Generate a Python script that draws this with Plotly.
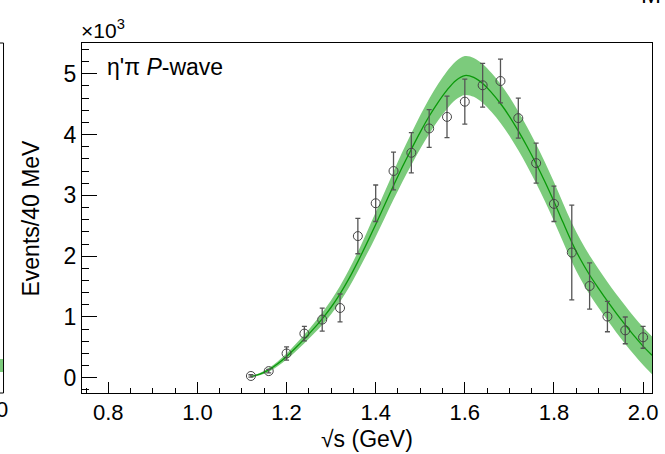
import plotly.graph_objects as go

# ---- data (events per 40 MeV) ----
x_data = [1.12, 1.16, 1.20, 1.24, 1.28, 1.32, 1.36, 1.40, 1.44, 1.48, 1.52, 1.56,
          1.60, 1.64, 1.68, 1.72, 1.76, 1.80, 1.84, 1.88, 1.92, 1.96, 2.00]
y_data = [30, 110, 400, 727, 957, 1148, 2330, 2870, 3400, 3700, 4100, 4290,
          4540, 4810, 4880, 4270, 3530, 2860, 2060, 1510, 1007, 780, 666]
y_err = [20, 30, 110, 120, 190, 230, 290, 300, 310, 330, 310, 340,
         370, 360, 360, 330, 330, 290, 780, 380, 250, 220, 180]

fit_x = [1.12, 1.14, 1.16, 1.18, 1.20, 1.22, 1.24, 1.26, 1.28, 1.30, 1.32, 1.34,
         1.36, 1.38, 1.40, 1.42, 1.44, 1.46, 1.48, 1.50, 1.52, 1.54, 1.56, 1.58,
         1.60, 1.62, 1.64, 1.66, 1.68, 1.70, 1.72, 1.74, 1.76, 1.78, 1.80, 1.82,
         1.84, 1.86, 1.88, 1.90, 1.92, 1.94, 1.96, 1.98, 2.00, 2.02]
fit_center = [20, 60, 130, 230, 350, 490, 640, 800, 970, 1160, 1380, 1630,
              1910, 2210, 2520, 2840, 3160, 3470, 3760, 4040, 4300, 4530, 4730, 4890,
              4970, 4940, 4840, 4690, 4510, 4300, 4060, 3800, 3520, 3220, 2900, 2560,
              2230, 1940, 1690, 1470, 1260, 1060, 870, 690, 520, 370]
fit_err = [10, 20, 30, 40, 50, 60, 70, 85, 100, 115, 130, 145,
           160, 180, 200, 215, 230, 245, 260, 275, 290, 300, 310, 315,
           320, 320, 320, 320, 320, 320, 320, 320, 320, 320, 320, 320,
           320, 320, 320, 320, 315, 315, 315, 310, 310, 310]

y_tickvals = [0, 1000, 2000, 3000, 4000, 5000]
y_ticktext = ["0", "1", "2", "3", "4", "5"]

band_color = "#7ccb7c"
line_color = "#0a990a"
FONT = "Liberation Sans, Arial, Helvetica, sans-serif"

fit_hi = [c + e for c, e in zip(fit_center, fit_err)]
fit_lo = [c - e for c, e in zip(fit_center, fit_err)]

fig = go.Figure()
fig.add_trace(go.Scatter(x=fit_x, y=fit_hi, mode="lines", line=dict(width=0, shape="spline"),
                         hoverinfo="skip", showlegend=False))
fig.add_trace(go.Scatter(x=fit_x, y=fit_lo, mode="lines", line=dict(width=0, shape="spline"),
                         fill="tonexty", fillcolor=band_color, hoverinfo="skip", showlegend=False))
fig.add_trace(go.Scatter(x=fit_x, y=fit_center, mode="lines",
                         line=dict(color=line_color, width=1.3, shape="spline"), showlegend=False))
fig.add_trace(go.Scatter(x=x_data, y=y_data, mode="markers",
                         marker=dict(symbol="circle-open", size=9, color="#444444",
                                     line=dict(width=1, color="#444444")),
                         error_y=dict(type="data", array=y_err, visible=True,
                                      color="#555555", thickness=1.3, width=2.5),
                         showlegend=False))

W, H = 665, 454
L, R, T, B = 82, 7, 43, 61
pw, ph = W - L - R, H - T - B


def px(xp):
    return (xp - L) / pw


def py(yp):
    return (H - B - yp) / ph


fig.update_layout(
    width=W, height=H,
    margin=dict(l=L, r=R, t=T, b=B),
    paper_bgcolor="white", plot_bgcolor="white",
    font=dict(family=FONT, size=22, color="black"),
    xaxis=dict(range=[0.741, 2.02], showgrid=False, zeroline=False,
               showline=True, linecolor="black", linewidth=1, mirror=True,
               ticks="inside", ticklen=11, tickcolor="black", tickwidth=1,
               tick0=0, dtick=0.2, tickformat=".1f",
               tickfont=dict(size=22, family=FONT),
               minor=dict(ticks="inside", ticklen=5, dtick=0.05, tick0=0,
                          tickcolor="black", tickwidth=1, showgrid=False)),
    yaxis=dict(range=[-250, 5505], showgrid=False, zeroline=False,
               showline=True, linecolor="black", linewidth=1, mirror=True,
               ticks="inside", ticklen=15, tickcolor="black", tickwidth=1,
               tickvals=y_tickvals, ticktext=y_ticktext,
               tickfont=dict(size=23, family=FONT),
               minor=dict(ticks="inside", ticklen=7, dtick=200, tick0=0,
                          tickcolor="black", tickwidth=1, showgrid=False)),
)

ann = []
ann.append(dict(text="Events/40 MeV", x=px(30), y=py(218), xref="paper", yref="paper",
                textangle=-90, showarrow=False, font=dict(size=23, family=FONT),
                xanchor="center", yanchor="middle"))
ann.append(dict(text="√s (GeV)", x=0.5, y=py(439), xref="paper", yref="paper",
                showarrow=False, font=dict(size=23, family=FONT),
                xanchor="center", yanchor="middle"))
ann.append(dict(text="η'π <i>P</i>-wave", x=px(105), y=py(67), xref="paper", yref="paper",
                showarrow=False, font=dict(size=23, family=FONT),
                xanchor="left", yanchor="middle"))
ann.append(dict(text="×10<sup>3</sup>", x=px(79), y=py(29), xref="paper", yref="paper",
                showarrow=False, font=dict(size=21, family=FONT),
                xanchor="left", yanchor="middle"))
# cut-off neighbouring content
ann.append(dict(text="0", x=px(9), y=py(409), xref="paper", yref="paper",
                showarrow=False, font=dict(size=22, family=FONT),
                xanchor="right", yanchor="middle"))
ann.append(dict(text="M", x=px(645), y=py(-6), xref="paper", yref="paper",
                showarrow=False, font=dict(size=24, family=FONT),
                xanchor="left", yanchor="middle"))
fig.update_layout(annotations=ann)

shapes = [
    dict(type="line", xref="paper", yref="paper", x0=px(2.7), x1=px(2.7), y0=0, y1=1,
         line=dict(color="black", width=1)),
    dict(type="line", xref="paper", yref="paper", x0=px(-2), x1=px(2.7), y0=1, y1=1,
         line=dict(color="black", width=1)),
    dict(type="line", xref="paper", yref="paper", x0=px(-2), x1=px(2.7), y0=0, y1=0,
         line=dict(color="black", width=1)),
    dict(type="rect", xref="paper", yref="paper", x0=px(-2), x1=px(2.2), y0=py(372), y1=py(359),
         fillcolor=band_color, line=dict(width=0)),
]
fig.update_layout(shapes=shapes)

fig.write_html("out.html", config={"displayModeBar": False},
               post_script="document.body.style.margin='0';document.body.style.overflow='hidden';")
